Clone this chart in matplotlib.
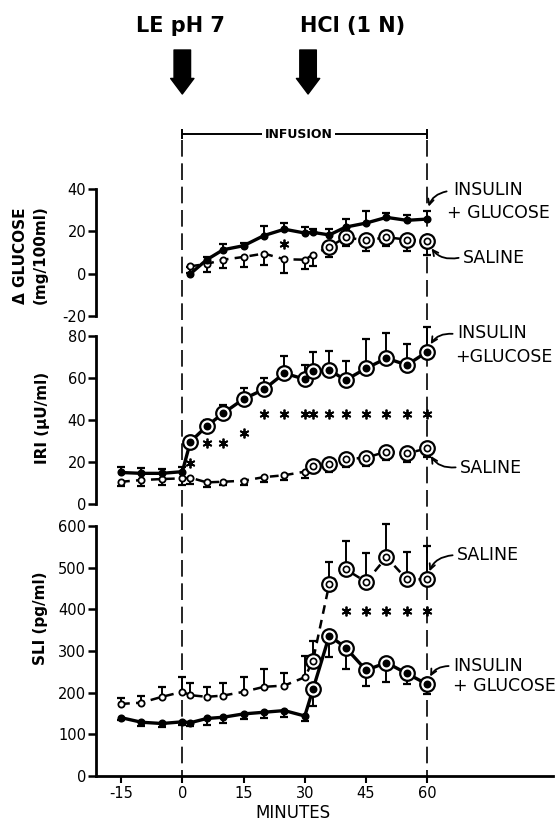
import numpy as np
import matplotlib
matplotlib.use('Agg')
import matplotlib.pyplot as plt

plt.rcParams['font.family'] = ['DejaVu Sans']
plt.rcParams['axes.unicode_minus'] = False

# ---------------- data ----------------
t_base = [-15, -10, -5, 0, 2, 6, 10, 15, 20, 25, 30, 32, 36, 40, 45, 50, 55, 60]
t_glu = [2, 6, 10, 15, 20, 25, 30, 32, 36, 40, 45, 50, 55, 60]

glu_ins = [0, 6.6, 11.3, 13.2, 18, 21, 19.2, 19.5, 18.3, 22, 23.9, 26.6, 25.2, 25.8]
glu_ins_err = [3, 1.5, 2.5, 1.5, 4.5, 3, 3, 1.5, 3, 3.8, 5.5, 2, 2.7, 3.6]
glu_sal = [3.5, 4.6, 6.6, 7.9, 9.5, 6.8, 6.6, 9, 12.6, 17.2, 15.7, 17.2, 16.1, 15.3]
glu_sal_err = [3, 3.8, 4, 4.7, 5.2, 6.3, 4.2, 5.5, 4.7, 4, 4.8, 4, 5.2, 6.3]
glu_star_t = [25]
glu_star_y = [14]

iri_ins = [15, 14.6, 14.6, 15.4, 29.7, 37.1, 43.2, 50, 54.6, 62.3, 59.4, 63.3, 63.8, 59, 64.6, 69.4, 66.2, 72.5]
iri_ins_err = [2.5, 2.5, 2, 2, 2, 3, 4, 5, 5.5, 8, 7, 9, 9, 9, 14, 12, 10, 12]
iri_sal = [10.6, 11.4, 11.9, 12.2, 12.5, 10.3, 10.6, 11.1, 12.8, 13.7, 15.4, 18.3, 18.9, 21.3, 22.1, 24.9, 24.1, 26.5]
iri_sal_err = [2, 3, 3, 3, 3, 2, 1.5, 2, 2.5, 2.5, 3, 3.5, 3.5, 3.5, 4, 4, 4, 4]
iri_star_t = [2, 6, 10, 15, 20, 25, 30, 32, 36, 40, 45, 50, 55, 60]
iri_star_y = [19.5, 29, 29, 34, 43, 43, 43, 43, 43, 43, 43, 43, 43, 43]

sli_sal = [173, 176, 190, 202, 194, 190, 193, 202, 214, 217, 237, 277, 461, 496, 466, 525, 472, 472]
sli_sal_err = [13, 17, 24, 36, 30, 24, 29, 36, 42, 29, 51, 47, 53, 68, 68, 79, 66, 81]
sli_ins = [140, 129, 126, 130, 128, 138, 141, 149, 153, 157, 144, 208, 337, 308, 254, 272, 246, 220]
sli_ins_err = [6, 8, 8, 8, 8, 15, 15, 12, 15, 15, 12, 39, 52, 51, 37, 46, 25, 23]
sli_star_t = [40, 45, 50, 55, 60]
sli_star_y = [397, 397, 397, 397, 397]

x_ticks = [-15, 0, 15, 30, 45, 60]
infusion_start, infusion_end = 0, 60
hcl_time = 30.8

# ---------------- layout helpers ----------------
W, H = 558, 821
fig = plt.figure(figsize=(W / 100, H / 100), dpi=100)

X0_PX, X60_PX = 182.3, 427.3
PPM = (X60_PX - X0_PX) / 60.0
AX_L, AX_R = 96, 553
XLIM = ((AX_L - X0_PX) / PPM, (AX_R - X0_PX) / PPM)


def add_ax(y_bottom_px, y_top_px):
    return fig.add_axes([AX_L / W, 1 - y_bottom_px / H, (AX_R - AX_L) / W,
                         (y_bottom_px - y_top_px) / H])


def style_ax(ax, ylim, ticks, bounds, xaxis=False):
    ax.set_xlim(*XLIM)
    ax.set_ylim(*ylim)
    ax.patch.set_visible(False)
    ax.set_zorder(2)
    for s in ['top', 'right']:
        ax.spines[s].set_visible(False)
    ax.spines['left'].set_linewidth(2)
    ax.spines['left'].set_bounds(*bounds)
    ax.set_yticks(ticks)
    ax.tick_params(axis='y', direction='out', length=6, width=1.8, labelsize=10.5, pad=1)
    if xaxis:
        ax.spines['bottom'].set_linewidth(2)
        ax.set_xticks(x_ticks)
        ax.tick_params(axis='x', direction='out', length=5, width=1.5, labelsize=10.5, pad=2)
    else:
        ax.spines['bottom'].set_visible(False)
        ax.set_xticks([])


def draw_series(ax, t, y, err, err_dir, filled, ring_from, dashed):
    t = np.asarray(t, float)
    y = np.asarray(y, float)
    err = np.asarray(err, float)
    if dashed:
        ax.plot(t, y, color='k', lw=1.8, ls=(0, (3.5, 2.5)), zorder=2)
    else:
        ax.plot(t, y, color='k', lw=2.4, ls='-', zorder=2)
    ends = y + err_dir * err
    ax.vlines(t, y, ends, color='k', lw=1.4, zorder=2)
    ax.plot(t, ends, ls='none', marker='_', ms=6, mew=1.6, color='k', zorder=2)
    small = t < ring_from
    ring = ~small
    fc = 'k' if filled else 'white'
    ax.plot(t[small], y[small], ls='none', marker='o', ms=4.5, mfc=fc, mec='k', mew=1.3, zorder=3)
    ax.plot(t[ring], y[ring], ls='none', marker='o', ms=10.5, mfc='white', mec='k', mew=1.6, zorder=3)
    ax.plot(t[ring], y[ring], ls='none', marker='o', ms=4.5, mfc=fc, mec='k', mew=1.2, zorder=4)


def stars(ax, t, y):
    ax.plot(t, y, ls='none', marker=(6, 2, 0), ms=7, mew=1.3, color='k', zorder=3)


def label(ax, x_px, y_val, s):
    ax.text((x_px - X0_PX) / PPM, y_val, s, fontsize=12.5, ha='left', va='center')


def squiggle(ax, xy, xytext, rad):
    ax.annotate('', xy=xy, xytext=xytext,
                arrowprops=dict(arrowstyle='->', lw=1.3, color='k',
                                connectionstyle='arc3,rad=%s' % rad,
                                shrinkA=1, shrinkB=6), zorder=5)

# ---------------- overlay (arrows, infusion bracket, dashed lines) ----------------
ov = fig.add_axes([AX_L / W, 1 - 776 / H, (AX_R - AX_L) / W, 776 / H])
ov.set_xlim(*XLIM)
ov.set_ylim(776, 0)
ov.axis('off')
ov.set_zorder(1)
ov.vlines([infusion_start, infusion_end], 140, 776, colors='k', lw=1.2,
          linestyles=[(0, (10, 4))])
ov.hlines(134, infusion_start, infusion_end, colors='k', lw=1.4)
ov.vlines([infusion_start, infusion_end], 129, 139, colors='k', lw=1.4)
ov.text((infusion_start + infusion_end) / 2 - 1.5, 134, 'INFUSION', fontsize=9, fontweight='bold',
        ha='center', va='center', bbox=dict(fc='white', ec='none', pad=2))
for tt in [infusion_start, hcl_time]:
    ov.annotate('', xy=(tt, 94), xytext=(tt, 50),
                arrowprops=dict(arrowstyle='simple,head_length=0.8,head_width=1.2,tail_width=0.85',
                                fc='k', ec='k', mutation_scale=14, shrinkA=0, shrinkB=0))
ov.text((180 - X0_PX) / PPM, 26, 'LE pH 7', fontsize=15, fontweight='bold', ha='center', va='center')
ov.text((353 - X0_PX) / PPM, 26, 'HCl (1 N)', fontsize=15, fontweight='bold', ha='center', va='center')

# ---------------- glucose panel ----------------
ax1 = add_ax(316 + 5 * 2.117, 189 - 10 * 2.117)
style_ax(ax1, (-25, 50), [-20, 0, 20, 40], (-20, 40))
draw_series(ax1, t_glu, glu_sal, glu_sal_err, -1, False, 36, True)
draw_series(ax1, t_glu, glu_ins, glu_ins_err, 1, True, 1000, False)
stars(ax1, glu_star_t, glu_star_y)
label(ax1, 453, 39.7, 'INSULIN')
label(ax1, 447, 28.8, '+ GLUCOSE')
label(ax1, 463, 7.6, 'SALINE')
squiggle(ax1, (t_glu[-1], glu_ins[-1] + 2), ((448 - X0_PX) / PPM, 39), 0.4)
squiggle(ax1, (t_glu[-1], glu_sal[-1]), ((460 - X0_PX) / PPM, 7.6), -0.4)

# ---------------- IRI panel ----------------
ax2 = add_ax(504, 504 - 90 * 2.1)
style_ax(ax2, (0, 90), [0, 20, 40, 60, 80], (0, 80))
draw_series(ax2, t_base, iri_sal, iri_sal_err, -1, False, 32, True)
draw_series(ax2, t_base, iri_ins, iri_ins_err, 1, True, 2, False)
stars(ax2, iri_star_t, iri_star_y)
label(ax2, 457, 81.4, 'INSULIN')
label(ax2, 455, 70, '+GLUCOSE')
label(ax2, 460, 17.1, 'SALINE')
squiggle(ax2, (t_base[-1], iri_ins[-1]), ((454 - X0_PX) / PPM, 81), 0.4)
squiggle(ax2, (t_base[-1], iri_sal[-1]), ((457 - X0_PX) / PPM, 17.5), -0.4)

# ---------------- SLI panel ----------------
ax3 = add_ax(776, 776 - 640 * 0.4167)
style_ax(ax3, (0, 640), [0, 100, 200, 300, 400, 500, 600], (0, 600), xaxis=True)
draw_series(ax3, t_base, sli_sal, sli_sal_err, 1, False, 32, True)
draw_series(ax3, t_base, sli_ins, sli_ins_err, -1, True, 32, False)
stars(ax3, sli_star_t, sli_star_y)
label(ax3, 457, 530, 'SALINE')
label(ax3, 453, 264, 'INSULIN')
label(ax3, 453, 216, '+ GLUCOSE')
squiggle(ax3, (t_base[-1], sli_sal[-1]), ((454 - X0_PX) / PPM, 530), 0.4)
squiggle(ax3, (t_base[-1], sli_ins[-1]), ((450 - X0_PX) / PPM, 264), 0.4)
ax3.set_xlabel('MINUTES', fontsize=12)
ax3.xaxis.set_label_coords(((293 - X0_PX) / PPM - XLIM[0]) / (XLIM[1] - XLIM[0]), -0.104)

# ---------------- y labels ----------------
fig.text(21 / W, 1 - 256 / H, 'Δ GLUCOSE', rotation=90, fontsize=11, fontweight='bold',
         ha='center', va='center')
fig.text(40 / W, 1 - 255 / H, '(mg/100ml)', rotation=90, fontsize=11, fontweight='bold',
         ha='center', va='center')
fig.text(43 / W, 1 - 418 / H, 'IRI (μU/ml)', rotation=90, fontsize=11, fontweight='bold',
         ha='center', va='center')
fig.text(40 / W, 1 - 618 / H, 'SLI (pg/ml)', rotation=90, fontsize=11, fontweight='bold',
         ha='center', va='center')

fig.savefig('out.png', dpi=100)
